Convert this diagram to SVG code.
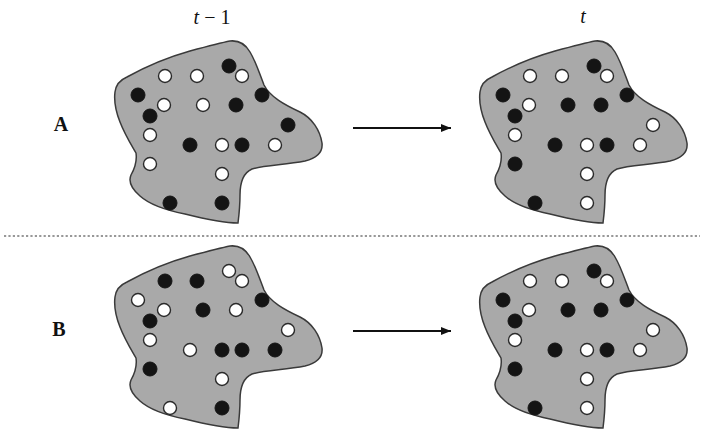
<svg xmlns="http://www.w3.org/2000/svg" xmlns:xlink="http://www.w3.org/1999/xlink" width="704" height="433" viewBox="0 0 704 433">
<style>
.blob{fill:#a9a9a9;stroke:#3a3a3a;stroke-width:1.5}
.w{fill:#ffffff;stroke:#2a2a2a;stroke-width:1.4}
.b{fill:#141414;stroke:#141414;stroke-width:1}
.lbl{font-family:"Liberation Serif","Times New Roman",serif;font-size:20px;fill:#111}
.hd{font-family:"Liberation Serif","Times New Roman",serif;font-size:20px;font-weight:bold;fill:#111}
.arrow{stroke:#111;stroke-width:2;fill:none}
</style>
<defs>
<path id="shape" class="blob" d="M115,92 C116,84 120,80 127,77 C145,67 165,58 190,51 C205,47 220,43 230,41 C240,40 246,45 250,52 C256,62 260,75 264,85 C270,97 285,105 300,112 C312,118 320,130 322,143 C323,152 317,158 305,161 C285,165 265,165 252,169 C243,173 240,182 240,195 C240,205 239,215 238,223 C225,223 205,219 185,214 C165,210 150,205 140,196 C133,190 128,182 131,175 C135,168 137,160 136,153 C132,146 125,135 120,122 C116,112 114,100 115,92 Z"/>
<marker id="ah" viewBox="0 0 10 8" refX="10" refY="4" markerWidth="10" markerHeight="8" markerUnits="userSpaceOnUse" orient="auto">
<path d="M0,0 L10,4 L0,8 Z" fill="#111"/>
</marker>
</defs>
<rect width="704" height="433" fill="#ffffff"/>
<text class="lbl" x="212" y="24" text-anchor="middle"><tspan font-style="italic">t</tspan> − 1</text>
<text class="lbl" x="583" y="23" text-anchor="middle" font-style="italic">t</text>
<text class="hd" x="61" y="131" text-anchor="middle">A</text>
<text class="hd" x="59" y="336" text-anchor="middle">B</text>

<g id="nodeA1">
<use xlink:href="#shape"/>
<circle class="b" cx="229" cy="66" r="7"/>
<circle class="w" cx="165" cy="76" r="6.5"/>
<circle class="w" cx="197" cy="76" r="6.5"/>
<circle class="w" cx="242" cy="76" r="6.5"/>
<circle class="b" cx="138" cy="95" r="7"/>
<circle class="b" cx="262" cy="95" r="7"/>
<circle class="w" cx="164" cy="105" r="6.5"/>
<circle class="w" cx="203" cy="105" r="6.5"/>
<circle class="b" cx="236" cy="105" r="7"/>
<circle class="b" cx="150" cy="116" r="7"/>
<circle class="b" cx="288" cy="125" r="7"/>
<circle class="w" cx="150" cy="135" r="6.5"/>
<circle class="b" cx="190" cy="145" r="7"/>
<circle class="w" cx="222" cy="145" r="6.5"/>
<circle class="b" cx="242" cy="145" r="7"/>
<circle class="w" cx="275" cy="145" r="6.5"/>
<circle class="w" cx="150" cy="164" r="6.5"/>
<circle class="w" cx="222" cy="174" r="6.5"/>
<circle class="b" cx="170" cy="203" r="7"/>
<circle class="b" cx="222" cy="203" r="7"/>
</g>

<g id="nodeA2" transform="translate(365,0)">
<use xlink:href="#shape"/>
<circle class="b" cx="229" cy="66" r="7"/>
<circle class="w" cx="165" cy="76" r="6.5"/>
<circle class="w" cx="197" cy="76" r="6.5"/>
<circle class="w" cx="242" cy="76" r="6.5"/>
<circle class="b" cx="138" cy="95" r="7"/>
<circle class="b" cx="262" cy="95" r="7"/>
<circle class="w" cx="164" cy="105" r="6.5"/>
<circle class="b" cx="203" cy="105" r="7"/>
<circle class="b" cx="236" cy="105" r="7"/>
<circle class="b" cx="150" cy="116" r="7"/>
<circle class="w" cx="288" cy="125" r="6.5"/>
<circle class="w" cx="150" cy="135" r="6.5"/>
<circle class="b" cx="190" cy="145" r="7"/>
<circle class="w" cx="222" cy="145" r="6.5"/>
<circle class="b" cx="242" cy="145" r="7"/>
<circle class="w" cx="275" cy="145" r="6.5"/>
<circle class="b" cx="150" cy="164" r="7"/>
<circle class="w" cx="222" cy="174" r="6.5"/>
<circle class="b" cx="170" cy="203" r="7"/>
<circle class="w" cx="222" cy="203" r="6.5"/>
</g>

<g id="nodeB1" transform="translate(0,205)">
<use xlink:href="#shape"/>
<circle class="w" cx="229" cy="66" r="6.5"/>
<circle class="b" cx="165" cy="76" r="7"/>
<circle class="b" cx="197" cy="76" r="7"/>
<circle class="w" cx="242" cy="76" r="6.5"/>
<circle class="w" cx="138" cy="95" r="6.5"/>
<circle class="b" cx="262" cy="95" r="7"/>
<circle class="w" cx="164" cy="105" r="6.5"/>
<circle class="b" cx="203" cy="105" r="7"/>
<circle class="w" cx="236" cy="105" r="6.5"/>
<circle class="b" cx="150" cy="116" r="7"/>
<circle class="w" cx="288" cy="125" r="6.5"/>
<circle class="w" cx="150" cy="135" r="6.5"/>
<circle class="w" cx="190" cy="145" r="6.5"/>
<circle class="b" cx="222" cy="145" r="7"/>
<circle class="b" cx="242" cy="145" r="7"/>
<circle class="b" cx="275" cy="145" r="7"/>
<circle class="b" cx="150" cy="164" r="7"/>
<circle class="w" cx="222" cy="174" r="6.5"/>
<circle class="w" cx="170" cy="203" r="6.5"/>
<circle class="b" cx="222" cy="203" r="7"/>
</g>

<g id="nodeB2" transform="translate(365,205)">
<use xlink:href="#shape"/>
<circle class="b" cx="229" cy="66" r="7"/>
<circle class="w" cx="165" cy="76" r="6.5"/>
<circle class="w" cx="197" cy="76" r="6.5"/>
<circle class="w" cx="242" cy="76" r="6.5"/>
<circle class="b" cx="138" cy="95" r="7"/>
<circle class="b" cx="262" cy="95" r="7"/>
<circle class="w" cx="164" cy="105" r="6.5"/>
<circle class="b" cx="203" cy="105" r="7"/>
<circle class="b" cx="236" cy="105" r="7"/>
<circle class="b" cx="150" cy="116" r="7"/>
<circle class="w" cx="288" cy="125" r="6.5"/>
<circle class="w" cx="150" cy="135" r="6.5"/>
<circle class="b" cx="190" cy="145" r="7"/>
<circle class="w" cx="222" cy="145" r="6.5"/>
<circle class="b" cx="242" cy="145" r="7"/>
<circle class="w" cx="275" cy="145" r="6.5"/>
<circle class="b" cx="150" cy="164" r="7"/>
<circle class="w" cx="222" cy="174" r="6.5"/>
<circle class="b" cx="170" cy="203" r="7"/>
<circle class="w" cx="222" cy="203" r="6.5"/>
</g>

<g id="connectors">
<line class="arrow" x1="353" y1="128" x2="451" y2="128" marker-end="url(#ah)"/>
<line class="arrow" x1="353" y1="331" x2="451" y2="331" marker-end="url(#ah)"/>
<line x1="4" y1="236" x2="700" y2="236" stroke="#333" stroke-width="1.2" stroke-dasharray="2.2,2.2"/>
</g>
</svg>
